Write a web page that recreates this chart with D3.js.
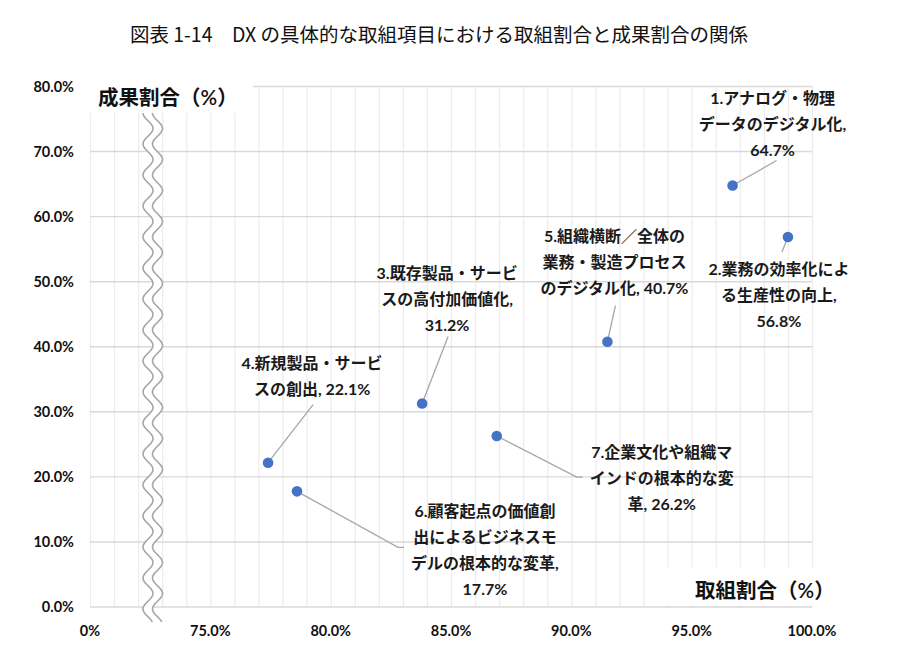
<!DOCTYPE html>
<html>
<head>
<meta charset="utf-8">
<script src="https://cdn.jsdelivr.net/npm/d3@7"></script>
<style>
  html, body { margin: 0; padding: 0; background: #fff; }
  svg { display: block; font-family: "Lato", "Noto Sans CJK JP", sans-serif; }
</style>
</head>
<body>
<div id="chart"></div>
<script>
// item numbers / names
const items = [
  "1.アナログ・物理データのデジタル化",
  "2.業務の効率化による生産性の向上",
  "3.既存製品・サービスの高付加価値化",
  "4.新規製品・サービスの創出",
  "5.組織横断／全体の業務・製造プロセスのデジタル化",
  "6.顧客起点の価値創出によるビジネスモデルの根本的な変革",
  "7.企業文化や組織マインドの根本的な変革"
];
// 取組割合 (%) and 成果割合 (%)
const torikumi = [96.7, 99.0, 83.8, 77.4, 91.5, 78.6, 86.9];
const seika = [64.7, 56.8, 31.2, 22.1, 40.7, 17.7, 26.2];
// data label text, wrapped like the original
const labelLines = [
  ["1.アナログ・物理", "データのデジタル化,", "64.7%"],
  ["2.業務の効率化によ", "る生産性の向上,", "56.8%"],
  ["3.既存製品・サービ", "スの高付加価値化,", "31.2%"],
  ["4.新規製品・サービ", "スの創出, 22.1%"],
  ["5.組織横断／全体の", "業務・製造プロセス", "のデジタル化, 40.7%"],
  ["6.顧客起点の価値創", "出によるビジネスモ", "デルの根本的な変革,", "17.7%"],
  ["7.企業文化や組織マ", "インドの根本的な変", "革, 26.2%"]
];
const xTicks = [70, 75, 80, 85, 90, 95, 100];
const xTickLabels = ["0%", "75.0%", "80.0%", "85.0%", "90.0%", "95.0%", "100.0%"];
const yTicks = [0, 10, 20, 30, 40, 50, 60, 70, 80];

// layout: label position and leader end, in px relative to the dot
const labelPos = [
  { dx: 40, dy: -88, lead: [[44, -25]] },
  { dx: -9, dy: 32, lead: [[-6, 15]] },
  { dx: 25, dy: -131, lead: [[26, -67]] },
  { dx: 44, dy: -100, lead: [[45, -58]] },
  { dx: 7, dy: -106, lead: [[8, -36]] },
  { dx: 188, dy: 20, lead: [[101, 56], [107, 56]] },
  { dx: 165, dy: 16, lead: [[80, 41], [86, 41]] }
];

(function () {
  const W = 910, H = 658;
  const left = 90, right = 812, top = 86, bottom = 606.5;

  const svg = d3.select("#chart").append("svg").attr("width", W).attr("height", H);

  const x = d3.scaleLinear().domain([70, 100]).range([left, right]);
  const y = d3.scaleLinear().domain([0, 80]).range([bottom, top]);

  // title
  svg.append("text")
    .attr("x", 439).attr("y", 33)
    .attr("text-anchor", "middle").attr("dominant-baseline", "central")
    .style("font-family", "'Noto Sans CJK JP', sans-serif")
    .style("font-size", "19.5px").style("font-weight", 400).style("fill", "#111")
    .text("図表 1-14　DX の具体的な取組項目における取組割合と成果割合の関係");

  // vertical grid (1% steps)
  svg.append("g")
    .attr("transform", `translate(0,${bottom})`)
    .call(d3.axisBottom(x).tickValues(d3.range(70, 101, 1)).tickSize(-(bottom - top)).tickFormat(""))
    .call(g => g.select(".domain").remove())
    .call(g => g.selectAll("line").attr("stroke", "#ececec").attr("stroke-width", 1.2));

  // horizontal grid
  svg.append("g")
    .attr("transform", `translate(${left},0)`)
    .call(d3.axisLeft(y).tickValues(yTicks).tickSize(-(right - left)).tickFormat(""))
    .call(g => g.select(".domain").remove())
    .call(g => g.selectAll("line").attr("stroke", "#d9d9d9").attr("stroke-width", 1.4));

  // white boxes behind the axis titles
  svg.append("rect").attr("x", 80).attr("y", 74).attr("width", 173).attr("height", 39).attr("fill", "#fff");
  svg.append("rect").attr("x", 655).attr("y", 567).attr("width", 160).attr("height", 38).attr("fill", "#fff");

  // axis break (double wavy line)
  const waveTop = 113, waveBot = 622, period = 31, amp = 5;
  function wave(cx) {
    const pts = [];
    for (let yy = waveTop; yy <= waveBot; yy += 1) {
      pts.push([cx - amp * Math.cos((yy - waveTop) / period * 2 * Math.PI), yy]);
    }
    return pts;
  }
  const w1 = wave(148), w2 = wave(157.5);
  svg.append("path")
    .attr("d", d3.line()(w1.concat(w2.slice().reverse())) + "Z")
    .attr("fill", "#fff");
  [w1, w2].forEach(w => {
    svg.append("path").attr("d", d3.line().curve(d3.curveBasis)(w))
      .attr("fill", "none").attr("stroke", "#a6a6a6").attr("stroke-width", 1.6);
  });

  // axis titles
  svg.append("text").attr("x", 98).attr("y", 97).attr("dominant-baseline", "central")
    .style("font-size", "20.5px").style("font-weight", 600).style("fill", "#111")
    .text("成果割合（%）");
  svg.append("text").attr("x", 695).attr("y", 590).attr("dominant-baseline", "central")
    .style("font-size", "20.5px").style("font-weight", 600).style("fill", "#111")
    .text("取組割合（%）");

  // tick labels
  svg.append("g").selectAll("text").data(yTicks).join("text")
    .attr("x", 74).attr("y", d => y(d))
    .attr("text-anchor", "end").attr("dominant-baseline", "central")
    .style("font-size", "14.5px").style("font-weight", 700).style("fill", "#111")
    .text(d => d3.format(".1f")(d) + "%");
  svg.append("g").selectAll("text").data(xTicks).join("text")
    .attr("x", d => x(d)).attr("y", 630)
    .attr("text-anchor", "middle").attr("dominant-baseline", "central")
    .style("font-size", "14.5px").style("font-weight", 700).style("fill", "#111")
    .text((d, i) => xTickLabels[i]);

  // points
  const pts = items.map((name, i) => ({
    name, px: x(torikumi[i]), py: y(seika[i]), lines: labelLines[i], pos: labelPos[i]
  }));

  // leader lines
  svg.append("g").selectAll("path").data(pts).join("path")
    .attr("d", d => d3.line()([[d.px, d.py]].concat(d.pos.lead.map(p => [d.px + p[0], d.py + p[1]]))))
    .attr("fill", "none").attr("stroke", "#a6a6a6").attr("stroke-width", 1.3);

  svg.append("g").selectAll("circle").data(pts).join("circle")
    .attr("cx", d => d.px).attr("cy", d => d.py).attr("r", 5.3)
    .attr("fill", "#4472c4");

  // data labels
  const lab = svg.append("g").selectAll("text").data(pts).join("text")
    .attr("text-anchor", "middle")
    .style("font-size", "16px").style("font-weight", 700).style("fill", "#1a1a1a");
  lab.selectAll("tspan").data(d => d.lines.map((t, k) => ({ t, k, d }))).join("tspan")
    .attr("x", e => e.d.px + e.d.pos.dx)
    .attr("y", e => e.d.py + e.d.pos.dy + e.k * 26 + 6)
    .text(e => e.t);
})();
</script>
</body>
</html>
